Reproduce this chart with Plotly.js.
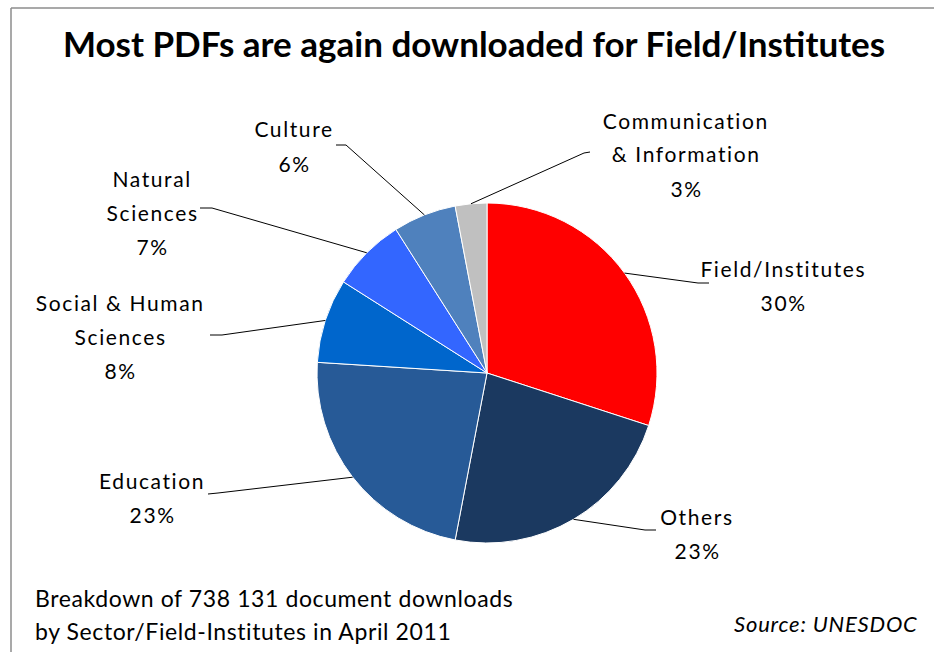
<!DOCTYPE html>
<html>
<head>
<meta charset="utf-8">
<script src="https://cdn.plot.ly/plotly-3.0.1.min.js"></script>
<style>html,body{margin:0;padding:0;background:#fff;}#chart{width:934px;height:652px;}</style>
</head>
<body>
<div id="chart"></div>
<script>
// ---- data ----
const categories = ["Field/Institutes", "Others", "Education", "Social & Human Sciences", "Natural Sciences", "Culture", "Communication & Information"];
const values = [30, 23, 23, 8, 7, 6, 3];
const colors = ["#ff0000", "#1b3960", "#275a97", "#0066cc", "#3366ff", "#4f81bd", "#c0c0c0"];
const labelLines = [["Field/Institutes"], ["Others"], ["Education"], ["Social & Human", "Sciences"], ["Natural", "Sciences"], ["Culture"], ["Communication", "& Information"]];
const titleText = "Most PDFs are again downloaded for Field/Institutes";
const noteLines = ["Breakdown of 738 131 document downloads", "by Sector/Field-Institutes in April 2011"];
const sourceText = "Source: UNESDOC";

// ---- layout geometry (pixels) ----
const W = 934, H = 652;
const cx = 487, cy = 373, R = 170;
const labelPos = [[783, 268], [697, 516], [152, 480], [120, 302], [152, 178], [294, 129], [686, 120]];
const elbows = [[698, 283], [645, 530], [218, 493], [222, 335], [212, 208], [346, 145], [584, 153]];
const ends = [[709, 283], [656, 530], [208, 494], [210, 335], [200, 208], [336, 145], [590, 152]];
const lineGap = 34;
const FONT = "Lato, 'Open Sans', sans-serif";

const px = x => x / W;
const py = y => 1 - y / H;

const total = values.reduce((a, b) => a + b, 0);
const annotations = [];
const shapes = [];
const spacing = {}; // annotation index -> letter-spacing

// slice labels + leader lines
let cum = 0;
values.forEach((v, i) => {
  const mid = (cum + v / 2) / total * 2 * Math.PI;
  cum += v;
  const sx = cx + R * Math.sin(mid), sy = cy - R * Math.cos(mid);
  const lines = labelLines[i].concat([Math.round(v / total * 100) + "%"]);
  lines.forEach((t, k) => {
    spacing[annotations.length] = 1.6;
    annotations.push({
      x: px(labelPos[i][0]), y: py(labelPos[i][1] + k * lineGap), xref: "paper", yref: "paper",
      text: t, showarrow: false, xanchor: "center", yanchor: "middle", align: "center",
      font: {family: FONT, size: 21, color: "#000"}
    });
  });
  shapes.push({
    type: "path", xref: "paper", yref: "paper",
    path: `M ${px(sx)} ${py(sy)} L ${px(elbows[i][0])} ${py(elbows[i][1])} L ${px(ends[i][0])} ${py(ends[i][1])}`,
    line: {color: "#000", width: 1}
  });
});

// notes
noteLines.forEach((t, k) => {
  spacing[annotations.length] = 0.6;
  annotations.push({
    x: px(33), y: py(598 + k * 33), xref: "paper", yref: "paper", text: t, showarrow: false,
    xanchor: "left", yanchor: "middle", align: "left", font: {family: FONT, size: 23, color: "#000"}
  });
});
spacing[annotations.length] = 0.8;
annotations.push({
  x: px(920), y: py(623), xref: "paper", yref: "paper", text: "<i>" + sourceText + "</i>", showarrow: false,
  xanchor: "right", yanchor: "middle", align: "right", font: {family: FONT, size: 22, color: "#000"}
});

// letter-spacing styles (Excel-like expanded text)
const css = Object.keys(spacing).map(k => `.annotation[data-index="${k}"] text{letter-spacing:${spacing[k]}px;}`).join("\n");
const st = document.createElement("style");
st.textContent = css;
document.head.appendChild(st);

// frame
shapes.push({type: "line", xref: "paper", yref: "paper", x0: px(11), x1: 1.01, y0: py(8), y1: py(8), line: {color: "#8c8c8c", width: 1.5}});
shapes.push({type: "line", xref: "paper", yref: "paper", x0: px(11), x1: px(11), y0: py(8), y1: -0.01, line: {color: "#8c8c8c", width: 1.5}});

const trace = {
  type: "pie",
  labels: categories,
  values: values,
  sort: false,
  direction: "clockwise",
  rotation: 0,
  textinfo: "none",
  hoverinfo: "label+percent",
  marker: {colors: colors, line: {color: "#ffffff", width: 1}},
  domain: {x: [px(cx - R), px(cx + R)], y: [py(cy + R), py(cy - R)]},
  showlegend: false
};

const layout = {
  width: W, height: H,
  margin: {l: 0, r: 0, t: 0, b: 0},
  paper_bgcolor: "#fff",
  title: {text: "<b>" + titleText + "</b>", x: 474 / W, xanchor: "center", y: py(45), yanchor: "middle", font: {family: FONT, size: 35, color: "#000"}},
  annotations: annotations,
  shapes: shapes,
  showlegend: false
};

Plotly.newPlot("chart", [trace], layout, {displayModeBar: false, staticPlot: true});
</script>
</body>
</html>
